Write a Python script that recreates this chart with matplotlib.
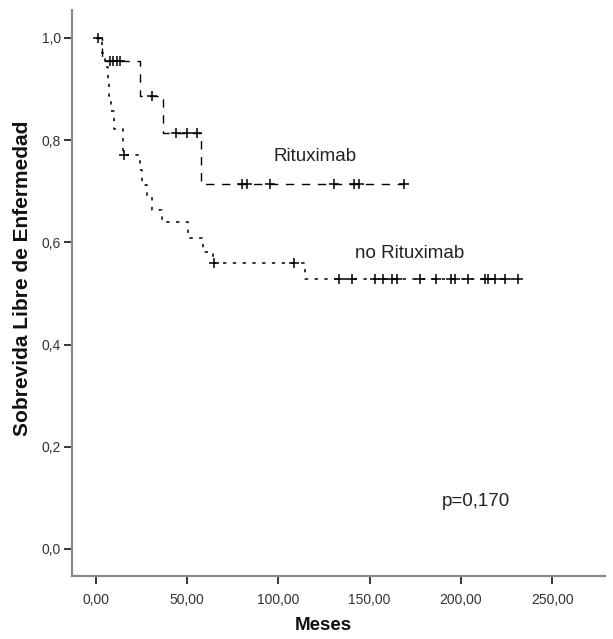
import numpy as np
import matplotlib
matplotlib.use("Agg")
import matplotlib.pyplot as plt
from matplotlib.ticker import FuncFormatter

# ---- data ----
# Rituximab: event times and survival after each event
rit_event_times = [3.5, 24.3, 36.9, 57.8]
rit_surv = [0.955, 0.886, 0.814, 0.714]
rit_censor_times = [1.3, 8.0, 9.5, 11.5, 13.5, 30.7, 44.0, 49.9, 55.5,
                    80.0, 82.8, 95.6, 130.3, 141.6, 144.4, 168.7]

# no Rituximab
norit_event_times = [3.3, 5.0, 6.5, 7.5, 8.5, 10.0, 14.8, 24.0, 25.5, 28.0,
                     31.0, 36.5, 50.5, 58.5, 64.0, 114.5]
norit_surv = [0.971, 0.943, 0.914, 0.886, 0.857, 0.822, 0.771, 0.742, 0.712,
              0.69, 0.663, 0.639, 0.609, 0.582, 0.559, 0.528]
norit_censor_times = [15.5, 65.0, 108.5, 133.2, 140.4, 152.8, 157.3, 162.1,
                      164.8, 177.4, 186.6, 194.7, 196.6, 203.9, 213.0, 215.0,
                      218.5, 224.0, 231.3]

x_ticks = [0, 50, 100, 150, 200, 250]
y_ticks = [0.0, 0.2, 0.4, 0.6, 0.8, 1.0]

labels = ["Rituximab", "no Rituximab"]
p_text = "p=0,170"

plt.rcParams['font.family'] = ['Liberation Sans', 'DejaVu Sans']

fig = plt.figure(figsize=(6.13, 6.39), dpi=100)
ax = fig.add_axes([0.1175, 0.0986, 0.8695, 0.886])


def km_path(times, surv, end):
    xs = np.concatenate([[0.0], times, [end]])
    ys = np.concatenate([[1.0], surv, [surv[-1]]])
    return xs, ys


def level_at(times, surv, t):
    idx = np.searchsorted(np.asarray(times), np.asarray(t), side='right') - 1
    vals = np.concatenate([[1.0], surv])
    return vals[idx + 1]


# Rituximab (dashed)
xs, ys = km_path(rit_event_times, rit_surv, max(rit_censor_times))
ax.plot(xs, ys, drawstyle='steps-post', color='black', lw=1.0,
        dashes=(6, 5.5))
ax.plot(rit_censor_times, level_at(rit_event_times, rit_surv, rit_censor_times),
        linestyle='none', marker='+', ms=7, mew=1.1, color='black')

# no Rituximab (dotted)
xs, ys = km_path(norit_event_times, norit_surv, max(norit_censor_times))
ax.plot(xs, ys, drawstyle='steps-post', color='black', lw=1.1,
        dashes=(2.2, 4.2))
ax.plot(norit_censor_times,
        level_at(norit_event_times, norit_surv, norit_censor_times),
        linestyle='none', marker='+', ms=7, mew=1.1, color='black')

ax.text(120.2, 0.767, labels[0], fontsize=13.5, color='#222222',
        ha='center', va='center')
ax.text(171.8, 0.579, labels[1], fontsize=13.5, color='#222222',
        ha='center', va='center')
ax.text(208, 0.092, p_text, fontsize=13.5, color='#222222',
        ha='center', va='center')

ax.set_xlim(-13, 279)
ax.set_ylim(-0.053, 1.055)
ax.set_xticks(x_ticks)
ax.set_yticks(y_ticks)
ax.xaxis.set_major_formatter(FuncFormatter(lambda v, p: f"{v:.2f}".replace('.', ',')))
ax.yaxis.set_major_formatter(FuncFormatter(lambda v, p: f"{v:.1f}".replace('.', ',')))
ax.tick_params(axis='both', direction='out', length=6, width=1.1,
               color='black', labelsize=10, labelcolor='#333333')
ax.tick_params(axis='x', pad=6)
ax.tick_params(axis='y', pad=2)

for s in ['top', 'right']:
    ax.spines[s].set_visible(False)
for s in ['left', 'bottom']:
    ax.spines[s].set_color('#8a8a8a')
    ax.spines[s].set_linewidth(1.6)

ax.set_xlabel('Meses', fontsize=13.5, fontweight='bold', color='#111111')
ax.xaxis.set_label_coords(0.471, -0.088)
ax.xaxis.label.set_va('center')
ax.set_ylabel('Sobrevida Libre de Enfermedad', fontsize=15,
              fontweight='bold', color='#111111')
ax.yaxis.set_label_coords(-0.092, 0.525)
ax.yaxis.label.set_va('center')

fig.savefig('out.png', dpi=100)
